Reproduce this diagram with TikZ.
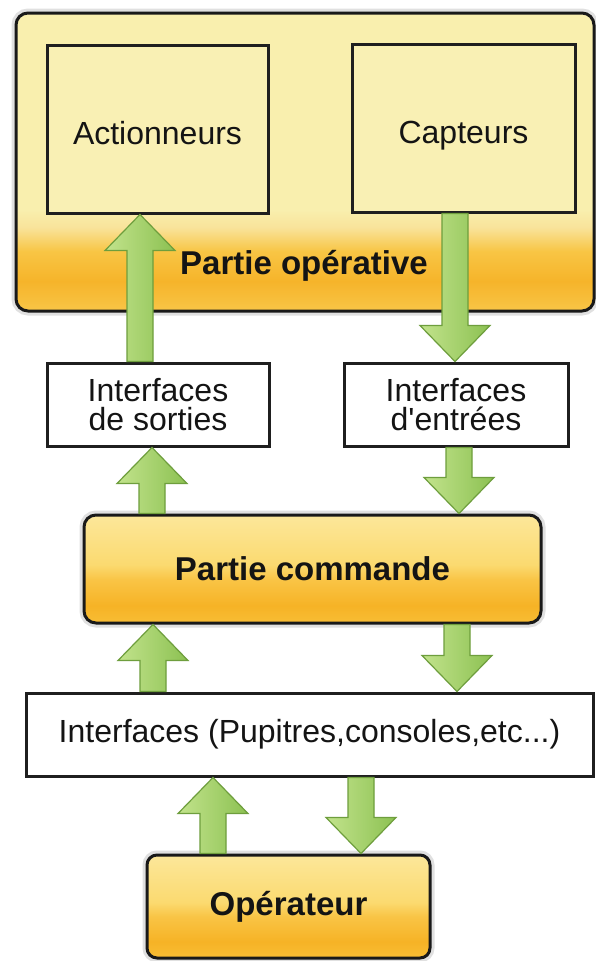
\documentclass[tikz,border=0pt]{standalone}
\usepackage{fontspec}
\newfontfamily\lib{Liberation Sans}
\usetikzlibrary{calc}
\definecolor{txt}{HTML}{141414}
\definecolor{paleY}{HTML}{F9F0B4}
\definecolor{opL}{HTML}{F9EFAE}
\definecolor{opL2}{HTML}{F9E39A}
\definecolor{opM2}{HTML}{F8C544}
\definecolor{opM}{HTML}{F6B42A}
\definecolor{opB}{HTML}{F8C547}
\definecolor{cTop}{HTML}{FCE79A}
\definecolor{cUp}{HTML}{FBDA70}
\definecolor{cMid}{HTML}{F9C445}
\definecolor{cLow}{HTML}{F6B326}
\definecolor{cBot}{HTML}{F8BD34}
\definecolor{arrL}{HTML}{C2E38C}
\definecolor{arrR}{HTML}{8CC152}
\definecolor{arrD}{HTML}{6E9E3D}
\pgfdeclareverticalshading{opshade}{100bp}{color(0bp)=(opB); color(25bp)=(opB); color(30bp)=(opM); color(35bp)=(opM2); color(39bp)=(opL2); color(42bp)=(opL); color(75bp)=(opL); color(100bp)=(opL)}
\pgfdeclareverticalshading{cmdshade}{100bp}{color(0bp)=(cBot); color(25bp)=(cBot); color(33bp)=(cLow); color(45bp)=(cMid); color(52bp)=(cUp); color(75bp)=(cTop); color(100bp)=(cTop)}
\newcommand\fatarr[2]{%
  \path[fatarrow] let \p1=#1, \p2=#2, \p3=($#2!36pt!#1$) in
    ({\x1-13pt},\y1) -- ({\x1-13pt},\y3) -- ({\x1-35pt},\y3) -- (\p2)
    -- ({\x1+35pt},\y3) -- ({\x1+13pt},\y3) -- ({\x1+13pt},\y1) -- cycle;}
\begin{document}
\begin{tikzpicture}[x=1pt,y=-1pt,
  every node/.style={font=\lib\fontsize{32}{29}\selectfont, text=txt},
  plainbox/.style={draw=black!88, line width=3pt, fill=white, inner sep=0pt, align=center},
  innerbox/.style={plainbox, fill=paleY, text height=30pt, text depth=0pt},
  gloss/.style={draw=black!90, line width=3pt, rounded corners=12pt, inner sep=0pt,
    preaction={draw=gray!40, line width=9pt, opacity=.6}},
  boldtext/.style={font=\lib\bfseries\fontsize{33}{36}\selectfont},
  fatarrow/.style={draw=arrD, line width=1.2pt, left color=arrL, right color=arrR, line join=miter}
]
\useasboundingbox[fill=white] (0,0) rectangle (596,961);

% Partie operative
\node[gloss, shade, shading=opshade, minimum width=578pt, minimum height=298pt] (op) at (305,162) {};
\node[boldtext] (oplabel) at (304,266) {Partie opérative};
\node[innerbox, minimum width=221pt, minimum height=168pt] (act) at (157.5,129) {Actionneurs};
\node[innerbox, minimum width=223pt, minimum height=168pt] (cap) at (463.5,128) {Capteurs};

% interfaces
\node[plainbox, minimum width=222pt, minimum height=83pt] (sorties) at (158,404.5) {Interfaces\\de sorties};
\node[plainbox, minimum width=224pt, minimum height=83pt] (entrees) at (456,404.5) {Interfaces\\d'entrées};

% Partie commande
\node[gloss, shade, shading=cmdshade, minimum width=457pt, minimum height=108pt, boldtext] (cmd) at (312.5,569) {Partie commande};

% Interfaces pupitres
\node[plainbox, minimum width=567pt, minimum height=83pt] (iface) at (309.5,734.5) {Interfaces (Pupitres,consoles,etc...)};

% Operateur
\node[gloss, rounded corners=10pt, shade, shading=cmdshade, minimum width=283pt, minimum height=103pt, boldtext] (oper) at (288.5,906.5) {Opérateur};

% arrow axes
\coordinate (a1) at (140,0);
\coordinate (a2) at (455,0);
\coordinate (a3) at (152,0);
\coordinate (a4) at (459,0);
\coordinate (a5) at (153,0);
\coordinate (a6) at (457,0);
\coordinate (a7) at (213,0);
\coordinate (a8) at (361,0);

\fatarr{(a1 |- sorties.north)}{(a1 |- act.south)}
\fatarr{(a2 |- cap.south)}{(a2 |- entrees.north)}
\fatarr{(a3 |- cmd.north)}{(a3 |- sorties.south)}
\fatarr{(a4 |- entrees.south)}{(a4 |- cmd.north)}
\fatarr{(a5 |- iface.north)}{(a5 |- cmd.south)}
\fatarr{(a6 |- cmd.south)}{(a6 |- iface.north)}
\fatarr{(a7 |- oper.north)}{(a7 |- iface.south)}
\fatarr{(a8 |- iface.south)}{(a8 |- oper.north)}
\end{tikzpicture}
\end{document}
